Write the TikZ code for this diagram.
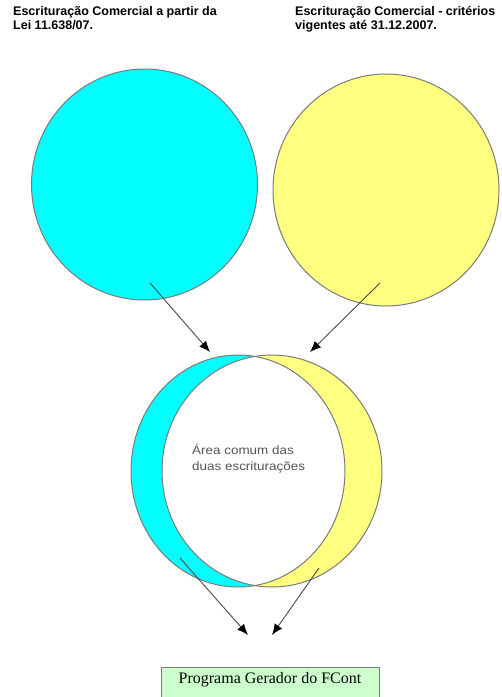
\documentclass[tikz,border=0pt]{standalone}
\usepackage{fontspec}
\setmainfont{Liberation Serif}
\setsansfont{Liberation Sans}
\newfontfamily\lensfont[FakeStretch=1.12]{Liberation Sans}
\usetikzlibrary{arrows.meta}
\definecolor{vennline}{HTML}{7A7A7A}
\definecolor{leicyan}{HTML}{00FFFF}
\definecolor{oldyellow}{HTML}{FFFF80}
\definecolor{fcontgreen}{HTML}{CCFFCC}
\definecolor{arrowgray}{HTML}{4A4A4A}
\definecolor{lenstext}{HTML}{555555}

\begin{document}
\begin{tikzpicture}[x=1pt, y=-1pt,
    disc/.style={draw=vennline, line width=1pt},
    flow/.style={draw=arrowgray, line width=0.9pt, -{Latex[length=11pt, width=9pt, color=black]}},
    title/.style={anchor=north west, inner sep=0pt, align=left,
      font=\sffamily\bfseries\fontsize{12.5}{14}\selectfont}]
  \useasboundingbox[fill=white] (0,0) rectangle (502,697);
  \def\rx{113}
  \def\ry{116}
  % titles
  \node[title] (newtitle) at (13,6) {Escrituração Comercial a partir da\\Lei 11.638/07.};
  \node[title] (oldtitle) at (295,6) {Escrituração Comercial - critérios\\vigentes até 31.12.2007.};
  % the two sets
  \draw[disc, fill=leicyan] (144.5,184.5) ellipse [x radius=\rx, y radius=115.5];
  \draw[disc, fill=oldyellow] (386,190) ellipse [x radius=\rx, y radius=\ry];
  % overlap
  \fill[leicyan] (238,471) ellipse [x radius=107, y radius=\ry];
  \fill[oldyellow] (272,471) ellipse [x radius=110, y radius=\ry];
  \begin{scope}
    \clip (238,471) ellipse [x radius=107, y radius=\ry];
    \fill[white] (272,471) ellipse [x radius=110, y radius=\ry];
  \end{scope}
  \draw[disc] (238,471) ellipse [x radius=107, y radius=\ry];
  \draw[disc] (272,471) ellipse [x radius=110, y radius=\ry];
  \node[anchor=north west, inner sep=0pt, align=left, text=lenstext,
    font=\lensfont\fontsize{12}{15.5}\selectfont] (common) at (192,444)
    {Área comum das\\duas escriturações};
  % result
  \node[draw=vennline, fill=fcontgreen, line width=1pt, anchor=north,
    minimum width=218pt, inner xsep=0pt, inner ysep=4pt,
    text height=12pt, text depth=24pt,
    font=\fontsize{16}{18}\selectfont] (fcont) at (270,667) {Programa Gerador do FCont};
  % arrows
  \coordinate (newfoot) at (150,283);
  \coordinate (oldfoot) at (380,283);
  \coordinate (lenstopL) at (210,352);
  \coordinate (lenstopR) at (310,352);
  \coordinate (cyanfoot) at (180,558);
  \coordinate (yellowfoot) at (319,568);
  \coordinate (fcontL) at (248,635);
  \coordinate (fcontR) at (272,635);
  \draw[flow] (newfoot) -- (lenstopL);
  \draw[flow] (oldfoot) -- (lenstopR);
  \draw[flow] (cyanfoot) -- (fcontL);
  \draw[flow] (yellowfoot) -- (fcontR);
\end{tikzpicture}
\end{document}
